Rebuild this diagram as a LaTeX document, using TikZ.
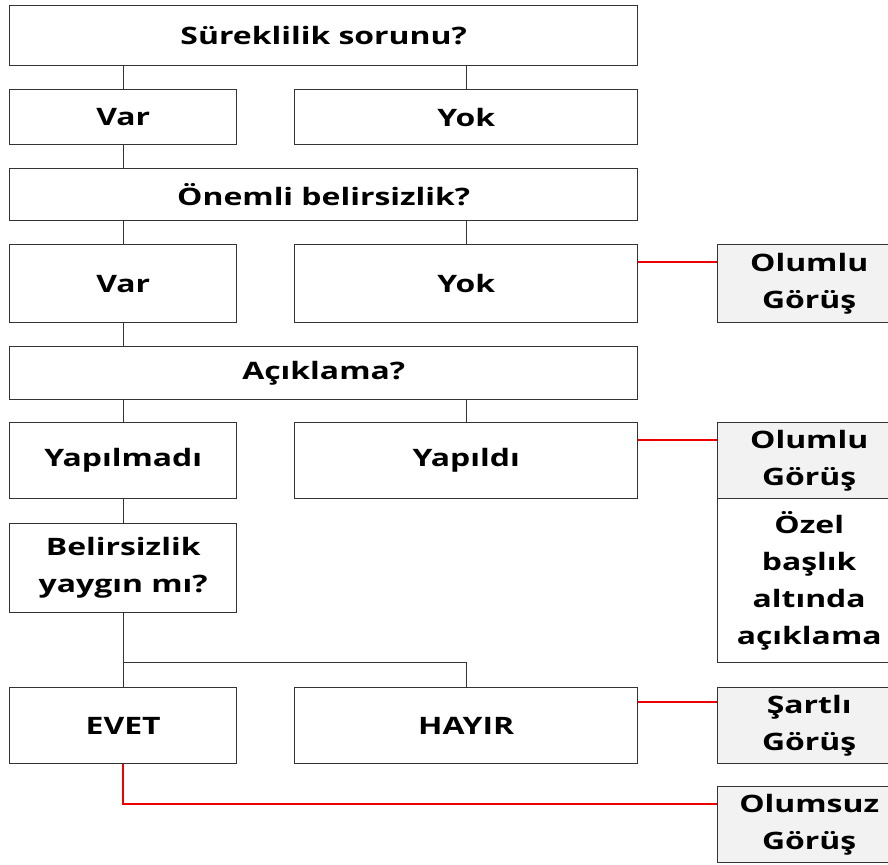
\documentclass[tikz,border=0pt]{standalone}
\usepackage{fontspec}
\setmainfont[FakeStretch=1.33]{Open Sans}
\usetikzlibrary{calc}
\definecolor{edge}{HTML}{333333}
\definecolor{boxgray}{HTML}{F2F2F2}
\definecolor{redline}{HTML}{EE0000}
\begin{document}
\begin{tikzpicture}[x=1pt,y=-1pt,
  box/.style={draw=edge, line width=1.4pt, fill=white, inner sep=0pt, anchor=north west,
    align=center, font=\bfseries\fontsize{24}{37}\selectfont},
  graybox/.style={box, fill=boxgray},
  conn/.style={draw=edge, line width=1.4pt},
  redconn/.style={draw=redline, line width=1.8pt}]
\useasboundingbox (0,0) rectangle (888,864);
% left column
\node[box, minimum width=628, minimum height=60] (top) at (9,5) {Süreklilik sorunu?};
\node[box, minimum width=227, minimum height=55] (var1) at (9,89) {Var};
\node[box, minimum width=343, minimum height=55] (yok1) at (294,89) {Yok};
\node[box, minimum width=628, minimum height=52] (onemli) at (9,168) {Önemli belirsizlik?};
\node[box, minimum width=227, minimum height=78] (var2) at (9,244) {Var};
\node[box, minimum width=343, minimum height=78] (yok2) at (294,244) {Yok};
\node[box, minimum width=628, minimum height=53] (acik) at (9,346) {Açıklama?};
\node[box, minimum width=227, minimum height=76] (yapilmadi) at (9,422) {Yapılmadı};
\node[box, minimum width=343, minimum height=76] (yapildi) at (294,422) {Yapıldı};
\node[box, minimum width=227, minimum height=89] (belir) at (9,523) {Belirsizlik\\yaygın mı?};
\node[box, minimum width=227, minimum height=76] (evet) at (9,687) {EVET};
\node[box, minimum width=343, minimum height=76] (hayir) at (294,687) {HAYIR};
% right column
\node[graybox, minimum width=183, minimum height=78] (olumlu1) at (717,244) {Olumlu\\Görüş};
\node[graybox, minimum width=183, minimum height=76] (olumlu2) at (717,422) {Olumlu\\Görüş};
\node[box, minimum width=183, minimum height=164] (ozel) at (717,498) {Özel\\başlık\\altında\\açıklama};
\node[graybox, minimum width=183, minimum height=76] (sartli) at (717,687) {Şartlı\\Görüş};
\node[graybox, minimum width=183, minimum height=76] (olumsuz) at (717,786) {Olumsuz\\Görüş};
% black connectors
\draw[conn] (top.south -| var1.north) -- (var1.north);
\draw[conn] (top.south -| yok1.north) -- (yok1.north);
\draw[conn] (var1.south) -- (onemli.north -| var1.south);
\draw[conn] (onemli.south -| var2.north) -- (var2.north);
\draw[conn] (onemli.south -| yok2.north) -- (yok2.north);
\draw[conn] (var2.south) -- (acik.north -| var2.south);
\draw[conn] (acik.south -| yapilmadi.north) -- (yapilmadi.north);
\draw[conn] (acik.south -| yapildi.north) -- (yapildi.north);
\draw[conn] (yapilmadi.south) -- (belir.north);
\coordinate (branch) at ($(belir.south)+(0,49)$);
\draw[conn] (belir.south) -- (evet.north);
\draw[conn] (branch) -| (hayir.north);
% red connectors
\coordinate (r1) at ($(yok2.north east)+(0,18)$);
\draw[redconn] (r1) -- (r1 -| olumlu1.west);
\coordinate (r2) at ($(yapildi.north east)+(0,18)$);
\draw[redconn] (r2) -- (r2 -| olumlu2.west);
\coordinate (r3) at ($(hayir.north east)+(0,15)$);
\draw[redconn] (r3) -- (r3 -| sartli.west);
\coordinate (r4) at ($(olumsuz.north west)+(0,18)$);
\draw[redconn] (evet.south) |- (r4);
\end{tikzpicture}
\end{document}
